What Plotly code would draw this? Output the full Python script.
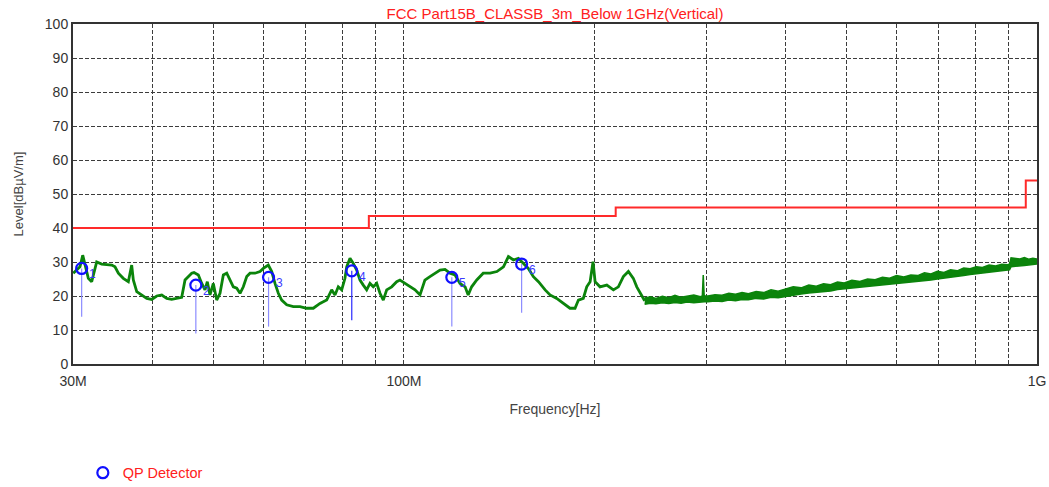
import math
import plotly.graph_objects as go

# ---- measured spectrum below 240 MHz (frequency in MHz, level in dBuV/m) ----
spec_freq_mhz = [
    30.03, 30.41, 30.77, 31.08, 31.34, 31.72, 32.11, 32.38, 32.70, 33.30,
    33.91, 34.54, 34.95, 35.38, 36.02, 36.69, 37.14, 37.36, 37.83, 38.52,
    39.23, 39.95, 40.68, 41.43, 42.19, 42.96, 43.75, 44.55, 45.09, 45.64,
    46.20, 46.59, 47.33, 47.92, 48.49, 48.90, 49.38, 49.98, 50.60, 51.21,
    51.83, 52.48, 53.11, 53.75, 54.42, 55.08, 55.74, 56.44, 57.12, 58.16,
    59.23, 59.95, 61.05, 61.81, 62.55, 63.31, 64.09, 65.27, 66.86, 68.51,
    70.19, 71.90, 73.67, 75.49, 76.87, 77.80, 78.74, 79.72, 80.68, 81.19,
    82.17, 83.16, 84.19, 85.21, 86.24, 87.31, 88.36, 89.43, 90.55, 91.64,
    92.75, 93.90, 95.62, 97.38, 98.55, 100.36, 102.2, 104.1, 106.0, 107.9,
    109.9, 111.9, 114.0, 116.1, 118.2, 120.4, 122.6, 124.9, 126.3, 127.9,
    130.3, 133.4, 136.8, 140.2, 143.6, 146.2, 148.9, 151.6, 154.4, 157.2,
    160.1, 163.1, 167.1, 170.1, 174.3, 178.6, 182.9, 186.3, 188.6, 192.0,
    194.4, 196.8, 198.9, 200.4, 204.0, 209.1, 214.2, 218.1, 222.1, 226.2,
    230.3, 233.2, 237.5, 240.0,
]
spec_level_db = [
    26.7, 27.6, 28.6, 32.0, 29.0, 25.2, 24.2, 26.7, 30.0, 29.4,
    29.3, 29.1, 28.6, 26.7, 25.2, 24.2, 29.1, 24.7, 21.3, 20.3,
    19.3, 19.0, 20.0, 20.3, 19.3, 19.0, 19.3, 19.6, 24.7, 25.7,
    26.7, 26.9, 26.2, 23.7, 21.8, 24.2, 20.3, 23.7, 18.8, 20.8,
    26.2, 26.7, 24.7, 22.7, 22.3, 20.8, 22.7, 25.7, 26.7, 26.7,
    27.2, 28.1, 29.1, 27.2, 23.7, 20.8, 18.8, 17.4, 16.9, 16.9,
    16.4, 16.4, 17.8, 18.8, 21.8, 20.3, 22.7, 21.8, 25.2, 28.6,
    31.1, 29.6, 27.6, 24.7, 23.2, 21.8, 23.7, 22.7, 23.7, 20.8,
    18.8, 21.8, 22.7, 24.2, 24.7, 23.7, 22.7, 21.8, 20.3, 24.7,
    25.7, 26.7, 27.6, 27.8, 26.7, 26.2, 23.7, 22.7, 20.3, 22.7,
    24.7, 26.7, 26.7, 27.2, 28.6, 31.6, 30.6, 31.1, 29.6, 28.1,
    25.7, 24.2, 21.8, 20.3, 19.3, 17.8, 16.4, 16.4, 18.8, 19.3,
    22.7, 24.2, 30.1, 24.2, 22.7, 23.2, 21.8, 22.7, 25.7, 27.2,
    25.2, 22.7, 20.3, 18.6,
]

# ---- 240 MHz .. 1 GHz: noise floor drawn as min / max envelope ----
band_freq_mhz = [
    240, 245, 250, 256, 262, 268, 274, 280, 287, 294,
    296, 297, 298, 302, 310, 318, 326, 334, 342, 350,
    360, 370, 380, 390, 400, 412, 424, 436, 448, 460,
    472, 484, 496, 510, 525, 540, 555, 570, 585, 600,
    616, 632, 648, 664, 680, 696, 713, 730, 748, 766,
    784, 802, 820, 840, 860, 880, 900, 905, 910, 925,
    940, 955, 970, 985, 1000,
]
band_max_db = [
    19.4, 19.8, 19.3, 19.9, 19.5, 20.2, 19.6, 19.9, 20.3, 19.8,
    20.0, 26.2, 20.1, 20.0, 20.4, 20.2, 20.8, 20.5, 21.0, 20.7,
    21.3, 21.0, 21.8, 21.4, 22.0, 22.7, 22.4, 23.2, 22.9, 23.6,
    23.3, 24.1, 23.8, 24.6, 24.3, 25.0, 24.8, 25.5, 25.2, 26.0,
    25.6, 26.2, 26.0, 26.8, 26.5, 27.3, 26.9, 27.7, 27.4, 28.2,
    28.0, 28.6, 28.4, 29.1, 28.8, 29.3, 29.2, 29.4, 31.2, 31.0,
    30.9, 31.3, 30.8, 31.1, 30.9,
]
band_min_db = [
    17.6, 17.9, 17.7, 18.0, 17.8, 18.1, 17.9, 18.2, 18.0, 18.3,
    18.2, 18.4, 18.3, 18.3, 18.5, 18.4, 18.8, 18.6, 19.0, 18.9,
    19.3, 19.1, 19.6, 19.5, 19.9, 20.3, 20.6, 20.9, 21.1, 21.4,
    21.5, 21.9, 22.1, 22.3, 22.6, 22.8, 23.0, 23.2, 23.4, 23.5,
    23.8, 24.0, 24.2, 24.5, 24.7, 25.0, 25.2, 25.5, 25.7, 26.0,
    26.3, 26.5, 26.7, 26.9, 27.2, 27.4, 27.6, 27.7, 28.6, 28.8,
    28.8, 29.0, 29.1, 29.2, 29.4,
]

# ---- FCC Part 15B class B limit, 3 m (step edges) ----
limit_freq_mhz = [30, 88, 88, 216, 216, 960, 960, 1000]
limit_level_db = [40, 40, 43.5, 43.5, 46, 46, 54, 54]

# ---- quasi-peak detector results ----
qp_no = ["1", "2", "3", "4", "5", "6"]
qp_freq_mhz = [30.96, 46.9, 61.1, 82.7, 119.0, 153.4]
qp_level_db = [28.1, 23.2, 25.5, 27.4, 25.5, 29.4]
qp_reading_db = [13.9, 9.0, 11.0, 12.9, 11.0, 15.1]
qp_stem_color = ["#8c8cff", "#8c8cff", "#8c8cff", "#2a2aff", "#8c8cff", "#8c8cff"]

# ---- axis ticks ----
x_tick_vals = [30, 40, 50, 60, 70, 80, 90, 100, 200, 300, 400, 500,
               600, 700, 800, 900, 1000]
x_tick_text = ["30M", "", "", "", "", "", "", "100M", "", "", "", "",
               "", "", "", "", "1G"]
y_tick_vals = list(range(0, 101, 10))

FONT = "Arial, Liberation Sans, sans-serif"
GREEN = "#0b840b"

fig = go.Figure()

fig.add_trace(go.Scatter(
    x=limit_freq_mhz, y=limit_level_db, mode="lines",
    line=dict(color="#ff2a2a", width=2), showlegend=False, hoverinfo="skip",
))

fig.add_trace(go.Scatter(
    x=spec_freq_mhz, y=spec_level_db, mode="lines",
    line=dict(color=GREEN, width=2.8), showlegend=False,
))

fig.add_trace(go.Scatter(
    x=band_freq_mhz, y=band_min_db, mode="lines",
    line=dict(color=GREEN, width=1.5), showlegend=False,
))
fig.add_trace(go.Scatter(
    x=band_freq_mhz, y=band_max_db, mode="lines",
    line=dict(color=GREEN, width=1.5), fill="tonexty", fillcolor=GREEN,
    showlegend=False,
))

for f, top, bottom, col in zip(qp_freq_mhz, qp_level_db, qp_reading_db, qp_stem_color):
    fig.add_trace(go.Scatter(
        x=[f, f], y=[top, bottom], mode="lines",
        line=dict(color=col, width=1.2), showlegend=False, hoverinfo="skip",
    ))

fig.add_trace(go.Scatter(
    x=qp_freq_mhz, y=qp_level_db, mode="markers", name="QP Detector",
    marker=dict(symbol="circle-open", size=11, color="#1010ff",
                line=dict(width=2.2, color="#1010ff")),
))

# marker numbers, set just right of and below each circle
# (annotation x on a log axis is given as log10 of the value)
for label, f, lvl in zip(qp_no, qp_freq_mhz, qp_level_db):
    fig.add_annotation(
        x=math.log10(f), y=lvl, text=label, showarrow=False,
        xanchor="left", yanchor="middle", xshift=5, yshift=-6,
        font=dict(family=FONT, size=12, color="#3a3aff"),
    )

fig.update_layout(
    width=1049, height=487,
    margin=dict(l=73, r=12, t=24, b=123, autoexpand=False),
    paper_bgcolor="white", plot_bgcolor="white",
    font=dict(family=FONT, size=14, color="#333333"),
    title=dict(text="FCC Part15B_CLASSB_3m_Below 1GHz(Vertical)",
               font=dict(family=FONT, size=15, color="#ff2020"),
               x=0.5, xref="paper", xanchor="center",
               y=1 - 14 / 487, yref="container", yanchor="middle"),
    showlegend=True,
    legend=dict(x=0.0102, y=-0.32, xanchor="left", yanchor="middle",
                font=dict(family=FONT, size=14.5, color="#ff2020"),
                bgcolor="rgba(0,0,0,0)", borderwidth=0),
)

fig.update_xaxes(
    type="log", range=[1.47712, 3.0], automargin=False,
    tickmode="array", tickvals=x_tick_vals, ticktext=x_tick_text,
    ticks="", ticklabelstandoff=3,
    showgrid=True, gridcolor="#3c3c3c", gridwidth=1,
    griddash="4px,2px",
    showline=True, mirror=True, linecolor="#333333", linewidth=2,
    zeroline=False,
    tickfont=dict(family=FONT, size=14, color="#333333"),
    title=dict(text="Frequency[Hz]", standoff=16,
               font=dict(family=FONT, size=14, color="#444444")),
)

fig.update_yaxes(
    range=[0, 100], tickmode="array", tickvals=y_tick_vals, automargin=False,
    ticks="", showgrid=True, gridcolor="#3c3c3c", gridwidth=1,
    griddash="4px,2px",
    showline=True, mirror=True, linecolor="#333333", linewidth=2,
    zeroline=False,
    tickfont=dict(family=FONT, size=14, color="#333333"),
    title=dict(text="Level[dBµV/m]", standoff=18,
               font=dict(family=FONT, size=13, color="#444444")),
)

fig.write_html("out.html")
